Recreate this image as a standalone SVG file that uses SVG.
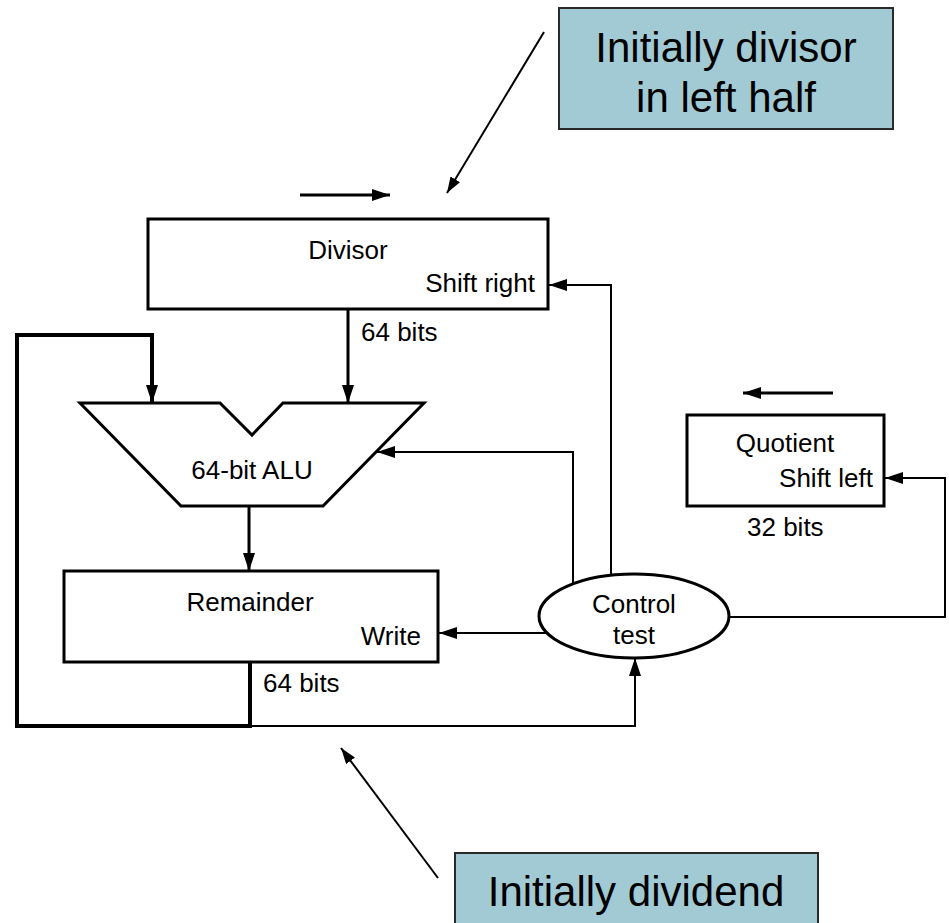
<svg xmlns="http://www.w3.org/2000/svg" width="949" height="923" viewBox="0 0 949 923">
<style>
.t{font-family:"Liberation Sans",Arial,sans-serif;font-size:26px;fill:#000}
.c{font-family:"Liberation Sans",Arial,sans-serif;font-size:42px;fill:#000;text-anchor:middle}
.box{fill:#fff;stroke:#000;stroke-width:3}
.callout{fill:#a2cad4;stroke:#2a2a2a;stroke-width:2}
.thin{fill:none;stroke:#000;stroke-width:2}
.mid{fill:none;stroke:#000;stroke-width:3}
.thick{fill:none;stroke:#000;stroke-width:4}
</style>
<defs>
<marker id="ah" viewBox="0 0 18 12" refX="18" refY="6" markerWidth="18" markerHeight="12" markerUnits="userSpaceOnUse" orient="auto">
<path d="M0,0 L18,6 L0,12 z" fill="#000"/>
</marker>
<marker id="ahs" viewBox="0 0 16 11" refX="16" refY="5.5" markerWidth="16" markerHeight="11" markerUnits="userSpaceOnUse" orient="auto">
<path d="M0,0 L16,5.5 L0,11 z" fill="#000"/>
</marker>
</defs>
<rect width="949" height="923" fill="#fff"/>
<g id="connectors">
<path class="thick" d="M250,662 V726 H17 V335 H152 V403" marker-end="url(#ah)"/>
<path class="mid" d="M348,309 V403" marker-end="url(#ah)"/>
<path class="mid" d="M249,506 V571" marker-end="url(#ah)"/>
<path class="thin" d="M548,633 H439" marker-end="url(#ah)"/>
<path class="thin" d="M573,584 V452 H377" marker-end="url(#ah)"/>
<path class="thin" d="M611,576 V285 H549" marker-end="url(#ah)"/>
<path class="thin" d="M729,617 H945 V478 H885" marker-end="url(#ah)"/>
<path class="thin" d="M250,726 H635 V658" marker-end="url(#ah)"/>
<path class="mid" d="M300,195 H390" marker-end="url(#ah)"/>
<path class="mid" d="M833,393 H743" marker-end="url(#ah)"/>
<path class="thin" d="M544,32 L447,193" marker-end="url(#ahs)"/>
<path class="thin" d="M438,878 L341,748" marker-end="url(#ahs)"/>
</g>
<g id="divisor">
<rect class="box" x="148" y="219" width="400" height="90"/>
<text class="t" x="348" y="259" text-anchor="middle">Divisor</text>
<text class="t" x="535" y="292" text-anchor="end">Shift right</text>
<text class="t" x="361" y="341">64 bits</text>
</g>
<g id="alu">
<polygon class="box" points="80,403 220,403 252,435 283,403 424,403 323,506 181,506"/>
<text class="t" x="252" y="479" text-anchor="middle">64-bit ALU</text>
</g>
<g id="remainder">
<rect class="box" x="64" y="571" width="374" height="91"/>
<text class="t" x="250" y="611" text-anchor="middle">Remainder</text>
<text class="t" x="421" y="645" text-anchor="end">Write</text>
<text class="t" x="263" y="692">64 bits</text>
</g>
<g id="control">
<ellipse class="box" cx="634" cy="616" rx="95" ry="42"/>
<text class="t" x="634" y="613" text-anchor="middle">Control</text>
<text class="t" x="634" y="644" text-anchor="middle">test</text>
</g>
<g id="quotient">
<rect class="box" x="687" y="415" width="197" height="91"/>
<text class="t" x="785" y="452" text-anchor="middle">Quotient</text>
<text class="t" x="873" y="487" text-anchor="end">Shift left</text>
<text class="t" x="747" y="536">32 bits</text>
</g>
<g id="note-divisor">
<rect class="callout" x="559" y="8" width="334" height="121"/>
<text class="c" x="726" y="62">Initially divisor</text>
<text class="c" x="726" y="112">in left half</text>
</g>
<g id="note-dividend">
<rect class="callout" x="455" y="853" width="363" height="72"/>
<text class="c" x="636" y="906">Initially dividend</text>
</g>
</svg>
